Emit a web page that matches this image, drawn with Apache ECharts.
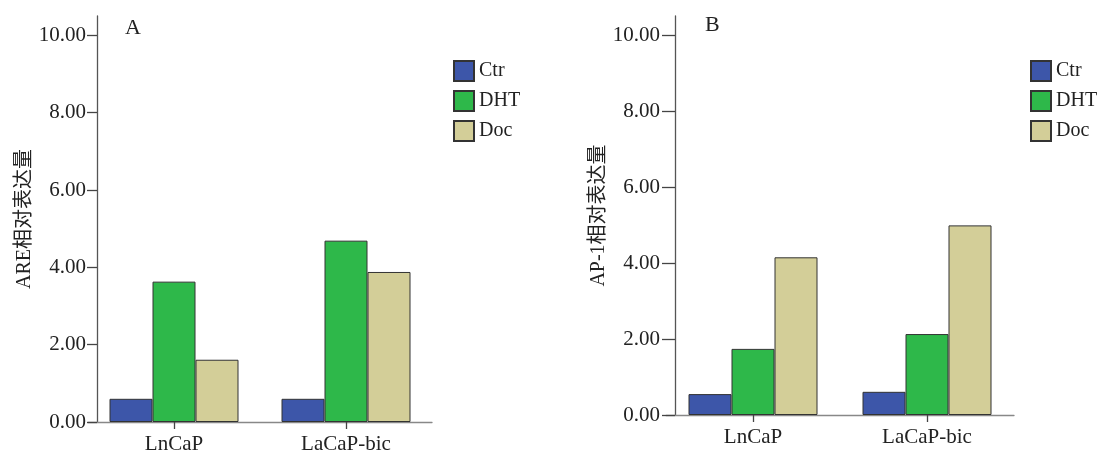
<!DOCTYPE html>
<html>
<head>
<meta charset="utf-8">
<script src="https://cdn.jsdelivr.net/npm/echarts@6/dist/echarts.min.js"></script>
<style>
  html, body { margin: 0; padding: 0; background: #fff; }
  #chart { width: 1100px; height: 457px; }
</style>
</head>
<body>
<div id="chart"></div>
<script>
const categories = ['LnCaP', 'LaCaP-bic'];
const seriesNames = ['Ctr', 'DHT', 'Doc'];
const seriesColors = ['#3d56a9', '#2eb84a', '#d3ce98'];

// panel A: ARE
const areCtr = [0.60, 0.60];
const areDht = [3.63, 4.69];
const areDoc = [1.61, 3.88];

// panel B: AP-1
const ap1Ctr = [0.55, 0.61];
const ap1Dht = [1.74, 2.13];
const ap1Doc = [4.15, 4.99];

const yTicks = [0, 2, 4, 6, 8, 10];

const font = "'Liberation Serif', 'Times New Roman', 'Noto Sans CJK SC', serif";

const chart = echarts.init(document.getElementById('chart'));

function yAxisFor(idx, name, tickLen, labelMargin) {
  return {
    type: 'value',
    gridIndex: idx,
    min: 0,
    max: 10.5,
    offset: -9,
    name: name,
    nameLocation: 'middle',
    nameGap: 61,
    nameTextStyle: { fontFamily: font, fontSize: 20, color: '#222' },
    axisLine: { show: true, lineStyle: { color: '#555', width: 1.3 } },
    axisTick: { show: true, length: tickLen, customValues: yTicks, lineStyle: { color: '#444', width: 1.3 } },
    axisLabel: {
      customValues: yTicks,
      margin: labelMargin,
      fontFamily: font,
      fontSize: 21,
      color: '#222',
      formatter: v => v.toFixed(2)
    },
    splitLine: { show: false }
  };
}

function xAxisFor(idx) {
  return {
    type: 'category',
    gridIndex: idx,
    data: categories,
    axisLine: { show: true, lineStyle: { color: '#888', width: 1.3 } },
    axisTick: { show: true, alignWithLabel: true, length: 7, lineStyle: { color: '#444', width: 1.3 } },
    axisLabel: { fontFamily: font, fontSize: 21, color: '#222', margin: 12 }
  };
}

function barSeries(name, color, data, idx) {
  return {
    name: name,
    type: 'bar',
    xAxisIndex: idx,
    yAxisIndex: idx,
    data: data,
    barWidth: 43,
    barGap: '0%',
    itemStyle: { color: color, borderColor: '#333', borderWidth: 1 }
  };
}

function legendAt(left) {
  return {
    orient: 'vertical',
    left: left,
    top: 60,
    padding: 0,
    itemWidth: 20,
    itemHeight: 20,
    itemGap: 8,
    icon: 'rect',
    data: seriesNames,
    textStyle: { fontFamily: font, fontSize: 20, color: '#222' }
  };
}

const panelA = [areCtr, areDht, areDoc];
const panelB = [ap1Ctr, ap1Dht, ap1Doc];

const option = {
  animation: false,
  backgroundColor: '#fff',
  title: [
    { text: 'A', left: 125, top: 17, padding: 0, textStyle: { fontFamily: font, fontSize: 22, fontWeight: 'normal', color: '#222' } },
    { text: 'B', left: 705, top: 14, padding: 0, textStyle: { fontFamily: font, fontSize: 22, fontWeight: 'normal', color: '#222' } }
  ],
  legend: [legendAt(453), legendAt(1030)],
  grid: [
    { left: 88, width: 344, top: 16, height: 406, containLabel: false },
    { left: 666, width: 348, top: 16, height: 399, containLabel: false }
  ],
  xAxis: [xAxisFor(0), xAxisFor(1)],
  yAxis: [
    yAxisFor(0, 'ARE相对表达量', 10, 11),
    yAxisFor(1, 'AP-1相对表达量', 13, 15)
  ],
  series: [
    ...seriesNames.map((n, i) => barSeries(n, seriesColors[i], panelA[i], 0)),
    ...seriesNames.map((n, i) => barSeries(n, seriesColors[i], panelB[i], 1))
  ]
};

chart.setOption(option);
</script>
</body>
</html>
